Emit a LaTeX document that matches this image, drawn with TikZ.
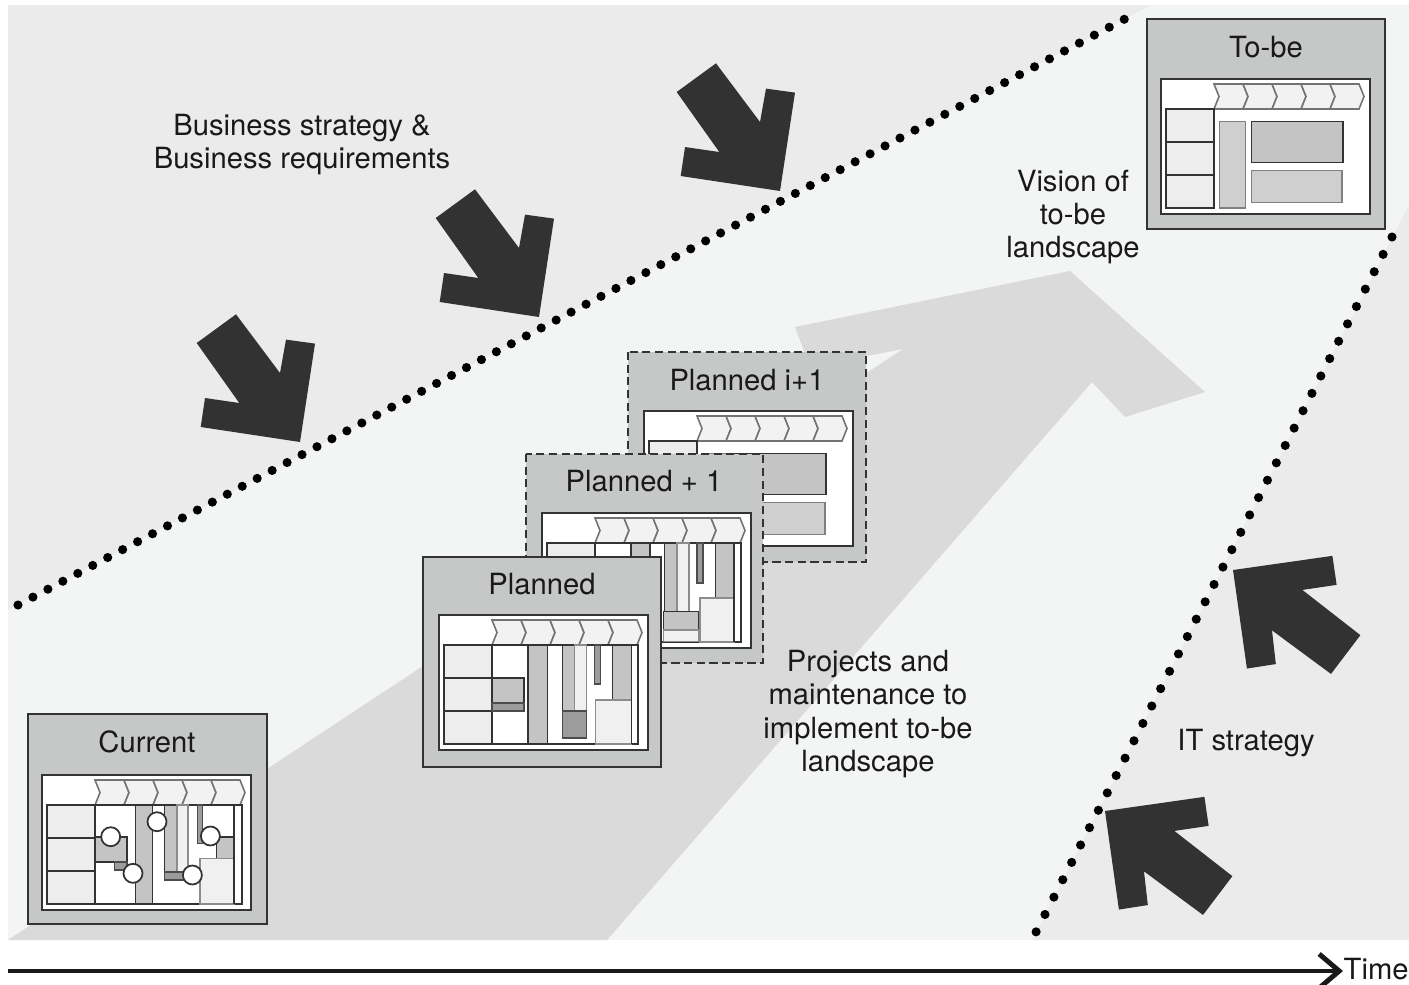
\documentclass[tikz,border=0pt]{standalone}
\usepackage{fontspec}
\setmainfont{TeX Gyre Heros}
\usetikzlibrary{arrows.meta}

\definecolor{bgdark}{HTML}{EBEBEB}
\definecolor{bglight}{HTML}{F3F4F4}
\definecolor{bandgray}{HTML}{DADADA}
\definecolor{boxgray}{HTML}{C6C7C7}
\definecolor{cellgray}{HTML}{C4C4C4}
\definecolor{cellpale}{HTML}{CFCFCF}
\definecolor{celldark}{HTML}{9C9C9C}
\definecolor{celllight}{HTML}{EDEDED}
\definecolor{inkblack}{HTML}{323232}

\tikzset{
  box/.style={draw=black!80, fill=boxgray, line width=0.6pt},
  dashbox/.style={box, dash pattern=on 2.3pt off 1.3pt},
  panel/.style={draw=black!80, fill=white, line width=0.5pt},
  rim/.style={draw=black!80, line width=0.45pt},
  cell/.style={draw=black!80, fill=celllight, line width=0.45pt},
  graycell/.style={draw=black!80, fill=cellgray, line width=0.45pt},
  palecell/.style={draw=black!50, fill=cellpale, line width=0.45pt},
  darkcell/.style={draw=black!70, fill=celldark, line width=0.45pt},
  softcell/.style={draw=black!45, fill=black!6, line width=0.45pt},
  chev/.style={draw=black!55, fill=black!5, line width=0.45pt},
  hub/.style={draw=black!80, fill=white, line width=0.5pt},
  dotline/.style={line width=2.6pt, line cap=round, black},
  txt/.style={font=\fontsize{8.3}{9.4}\selectfont, text=black!90, align=center, inner sep=0pt},
  pics/pusharrow/.style={code={
    \fill[inkblack] (-103.3,-99) -- (-64,-127.7) -- (-20,-69) -- (-14,-102.4) -- (15,-98.4) -- (0,0)
      -- (-99.3,-15) -- (-95,-44) -- (-60.7,-39) -- cycle;
  }},
  pics/frame/.style={code={
    \draw[panel] (0,0) rectangle (209,135);
    \foreach \i in {0,...,4}
      \draw[chev] ({53+29*\i},5) -- ++(29,0) -- ++(5,12.5) -- ++(-5,12.5) -- ++(-29,0) -- ++(5,-12.5) -- cycle;
    \foreach \r in {0,1,2}
      \draw[cell] (5,{30+33*\r}) rectangle ++(48,33);
  }},
}

\begin{document}
\begin{tikzpicture}[x=0.01cm, y=-0.01cm]
  \useasboundingbox (0,0) rectangle (1409,984);
  \fill[white] (0,0) rectangle (1409,984);

  % backdrop and the three zones
  \fill[bglight] (8,5) rectangle (1409,940);
  \fill[bgdark] (8,5) -- (1151,5) -- (8,610) -- cycle;
  \fill[bgdark] (1409,205) -- (1409,940) -- (1032,940) -- cycle;

  % wide gray arrow
  \fill[bandgray] (8,940) -- (903,349) -- (810,367) -- (795,327) -- (1070,271) -- (1205,392)
    -- (1125,417) -- (1092,382) -- (607,940) -- cycle;

  % dotted borders
  \draw[dotline, dash pattern=on 0pt off 4.81pt] (18,605) -- (1138,12);
  \draw[dotline, dash pattern=on 0pt off 5.55pt] (1392,237) -- (1036,932);

  % pushing arrows
  \pic at (300,442) {pusharrow};
  \pic at (539,317) {pusharrow};
  \pic at (780,191) {pusharrow};
  \pic[rotate=-163.3] at (1233,570) {pusharrow};
  \pic[rotate=-163.3] at (1105,811) {pusharrow};

  % to-be
  \draw[box] (1147,19) rectangle (1385,229);
  \node[txt, anchor=base] (tobe) at (1266,57) {To-be};
  \begin{scope}[shift={(1161,79)}]
    \pic {frame};
    \draw[palecell] (58.6,42.4) rectangle (84.3,129);
    \draw[graycell] (90.3,42.4) rectangle (182,83.4);
    \draw[palecell] (90.3,91.4) rectangle (181,123.4);
  \end{scope}

  % planned i+1
  \draw[dashbox] (628,352) rectangle (866,562);
  \node[txt, anchor=base] (plannedi) at (747,390) {Planned i+1};
  \begin{scope}[shift={(644,411)}]
    \pic {frame};
    \draw[palecell] (58.6,42.4) rectangle (84.3,129);
    \draw[graycell] (90.3,42.4) rectangle (182,83.4);
    \draw[palecell] (90.3,91.4) rectangle (181,123.4);
  \end{scope}

  % planned + 1
  \draw[dashbox] (526,454) rectangle (763,663);
  \node[txt, anchor=base] (plannedone) at (644,491) {Planned + 1};
  \begin{scope}[shift={(542,513)}]
    \pic {frame};
    \draw[rim] (5,30) rectangle (199,129);
    \draw[graycell] (89,30) rectangle (108,129);
    \draw[graycell] (122.6,30) rectangle (135,98.4);
    \draw[softcell] (135,30) rectangle (147,98.4);
    \draw[graycell] (121.6,98.4) rectangle (156.3,116.7);
    \draw[softcell] (121.6,116.7) rectangle (156.3,128.3);
    \draw[darkcell] (155,30) rectangle (161,70);
    \draw[graycell] (173.3,30) rectangle (191.7,85);
    \draw[softcell] (158,85) rectangle (191.7,129);
    \draw[rim] (191.7,30) -- (191.7,129);
  \end{scope}

  % planned
  \draw[box] (423,557) rectangle (661,767);
  \node[txt, anchor=base] (planned) at (542,594) {Planned};
  \begin{scope}[shift={(439,615)}]
    \pic {frame};
    \draw[rim] (5,30) rectangle (199,129);
    \draw[graycell] (53,63) rectangle (85,88);
    \draw[darkcell] (53,88) rectangle (85,96);
    \draw[graycell] (89,30) rectangle (108.3,129);
    \draw[graycell] (123.7,30) rectangle (135.3,96);
    \draw[softcell] (135.3,30) rectangle (147.7,96);
    \draw[darkcell] (123.7,96) rectangle (147.7,123);
    \draw[darkcell] (155.3,30) rectangle (161.3,69);
    \draw[graycell] (173.3,30) rectangle (192.7,85);
    \draw[softcell] (156.3,85) rectangle (192.7,129);
    \draw[rim] (192.7,30) -- (192.7,129);
  \end{scope}

  % current
  \draw[box] (28,714) rectangle (267,924);
  \node[txt, anchor=base] (current) at (147,752) {Current};
  \begin{scope}[shift={(42,775)}]
    \pic {frame};
    \draw[rim] (5,30) rectangle (200,129);
    \draw[graycell] (53,62) rectangle (85,87);
    \draw[darkcell] (72.7,87) rectangle (85,95);
    \draw[graycell] (93.7,30) rectangle (110.3,129);
    \draw[graycell] (122.7,30) rectangle (135,96.7);
    \draw[softcell] (135,30) rectangle (146,96.7);
    \draw[darkcell] (122.7,96.7) rectangle (146,105);
    \draw[darkcell] (155.7,30) rectangle (160.7,68.3);
    \draw[graycell] (174.7,61.7) rectangle (192,83.3);
    \draw[softcell] (158,83.3) rectangle (192,129);
    \draw[rim] (192,30) -- (192,129);
    \foreach \hx/\hy in {68.7/61.7, 91/98.3, 115/46.7, 150.4/100, 168.4/61}
      \draw[hub] (\hx,\hy) circle[radius=9.5];
  \end{scope}

  % labels
  \node[txt] (bizreq) at (302,145) {Business strategy \&\\Business requirements};
  \node[txt] (vision) at (1073,217) {Vision of\\to-be\\landscape};
  \node[txt] (projects) at (868,714) {Projects and\\maintenance to\\implement to-be\\landscape};
  \node[txt] (itstrat) at (1246,743) {IT strategy};

  % time axis
  \draw[line width=1.4pt, black!90, -{Straight Barb[length=2mm, width=3.4mm]}] (8,971) -- (1343,971);
  \node[txt, anchor=west] (time) at (1343,969) {Time};
\end{tikzpicture}
\end{document}
